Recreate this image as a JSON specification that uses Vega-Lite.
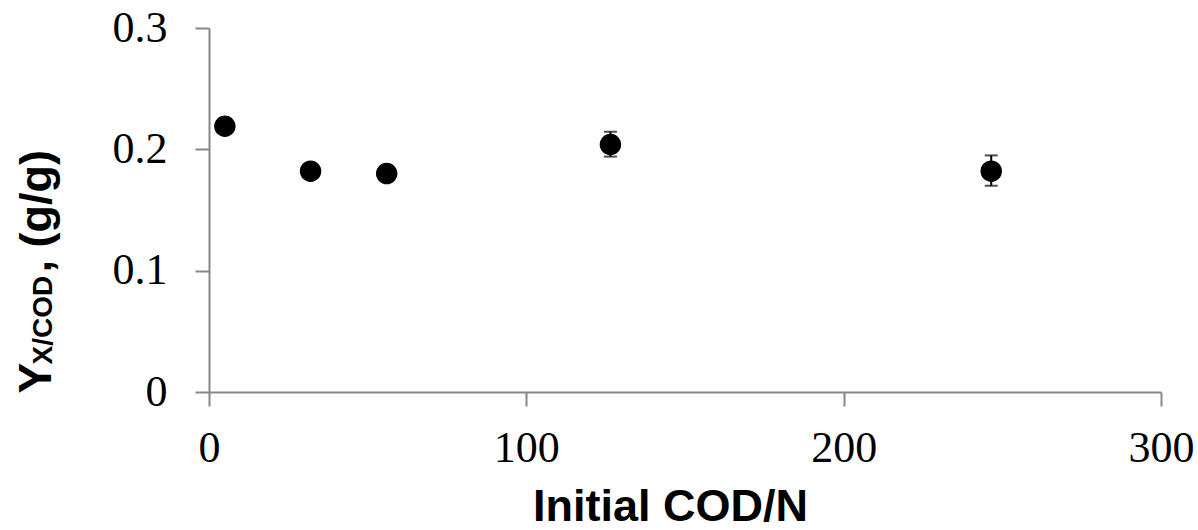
{
  "$schema": "https://vega.github.io/schema/vega-lite/v6.json",
  "width": 952,
  "height": 364,
  "autosize": {"type": "none"},
  "padding": {"left": 209, "top": 28, "right": 37, "bottom": 138},
  "background": "white",
  "config": {
    "view": {"stroke": null},
    "axis": {
      "grid": false,
      "domainColor": "#878787",
      "domainWidth": 2,
      "tickColor": "#878787",
      "tickWidth": 2,
      "tickSize": 14,
      "labelFont": "Liberation Serif",
      "labelFontSize": 44,
      "labelColor": "black",
      "titleFont": "Liberation Sans",
      "titleFontWeight": "bold",
      "titleColor": "black"
    }
  },
  "data": {
    "values": [
      {"codn": 5, "yield": 0.219, "lo": null, "hi": null},
      {"codn": 32, "yield": 0.182, "lo": null, "hi": null},
      {"codn": 56, "yield": 0.180, "lo": null, "hi": null},
      {"codn": 126.5, "yield": 0.204, "lo": 0.194, "hi": 0.2145},
      {"codn": 246.5, "yield": 0.182, "lo": 0.170, "hi": 0.195}
    ]
  },
  "layer": [
    {
      "mark": {"type": "rule", "color": "black", "strokeWidth": 2},
      "encoding": {
        "x": {
          "field": "codn", "type": "quantitative",
          "scale": {"domain": [0, 300], "nice": false},
          "axis": {
            "values": [0, 100, 200, 300],
            "labelPadding": 20,
            "labelFlush": false,
            "title": "Initial COD/N",
            "titleFontSize": 45,
            "titleAlign": "center",
            "titleBaseline": "alphabetic",
            "titleX": 461,
            "titleY": 128
          }
        },
        "y": {
          "field": "lo", "type": "quantitative",
          "scale": {"domain": [0, 0.3], "nice": false},
          "axis": {
            "orient": "left",
            "values": [0, 0.1, 0.2, 0.3],
            "format": "~g",
            "labelPadding": 28,
            "labelFlush": false,
            "title": "Y",
            "titleFontSize": 46,
            "titleAngle": 270,
            "titleAlign": "left",
            "titleBaseline": "alphabetic",
            "titleX": -159,
            "titleY": 365
          }
        },
        "y2": {"field": "hi"}
      }
    },
    {
      "mark": {"type": "tick", "orient": "horizontal", "size": 13, "thickness": 2, "color": "black"},
      "encoding": {
        "x": {"field": "codn", "type": "quantitative"},
        "y": {
          "field": "lo", "type": "quantitative",
          "scale": {"domain": [0, 0.3], "nice": false},
          "axis": {
            "orient": "left",
            "offset": 0,
            "labels": false, "ticks": false, "domain": false,
            "title": "X/COD",
            "titleFontSize": 28,
            "titleAngle": 270,
            "titleAlign": "left",
            "titleBaseline": "alphabetic",
            "titleX": -158,
            "titleY": 336
          }
        }
      }
    },
    {
      "mark": {"type": "tick", "orient": "horizontal", "size": 13, "thickness": 2, "color": "black"},
      "encoding": {
        "x": {"field": "codn", "type": "quantitative"},
        "y": {
          "field": "hi", "type": "quantitative",
          "scale": {"domain": [0, 0.3], "nice": false},
          "axis": {
            "orient": "left",
            "offset": 0,
            "labels": false, "ticks": false, "domain": false,
            "title": ", (g/g)",
            "titleFontSize": 45,
            "titleAngle": 270,
            "titleAlign": "left",
            "titleBaseline": "alphabetic",
            "titleX": -159,
            "titleY": 244
          }
        }
      }
    },
    {
      "mark": {"type": "point", "filled": true, "size": 460, "color": "black", "opacity": 1},
      "encoding": {
        "x": {"field": "codn", "type": "quantitative"},
        "y": {
          "field": "yield", "type": "quantitative",
          "scale": {"domain": [0, 0.3], "nice": false},
          "axis": null
        }
      }
    }
  ],
  "resolve": {"axis": {"y": "independent"}}
}
